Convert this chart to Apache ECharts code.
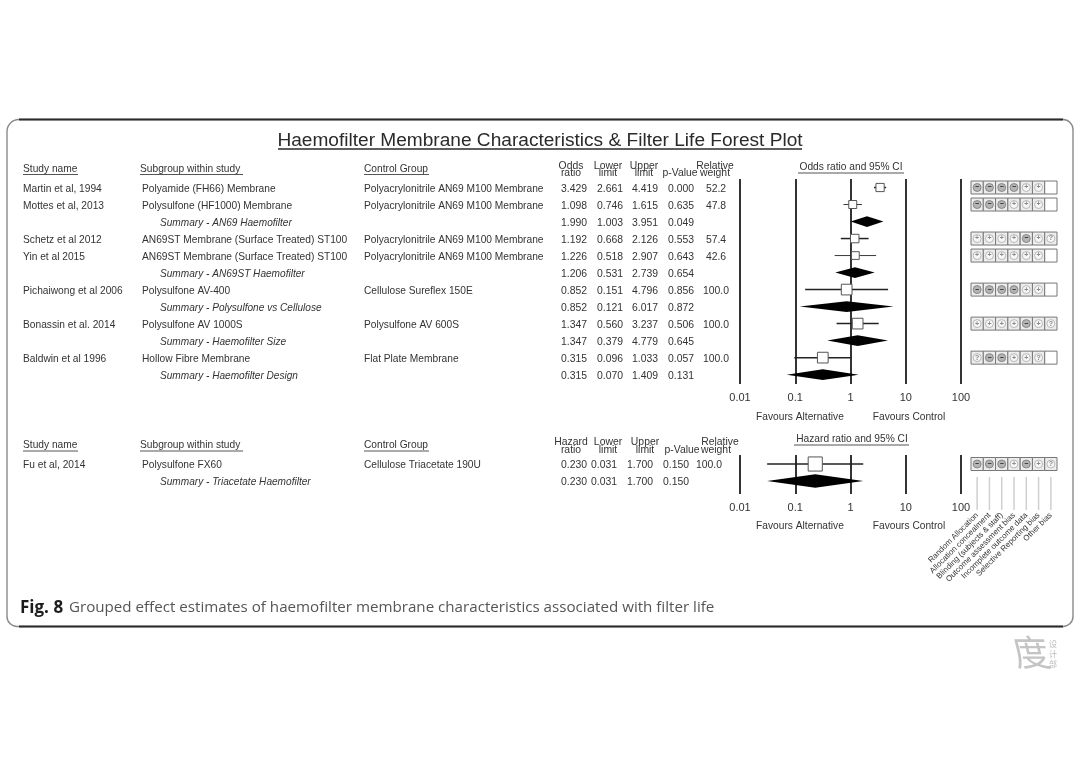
<!DOCTYPE html>
<html>
<head>
<meta charset="utf-8">
<style>html,body{margin:0;padding:0;background:#fff}#c{width:1080px;height:764px;filter:blur(0.45px)}</style>
<script src="https://cdn.jsdelivr.net/npm/echarts@6/dist/echarts.min.js"></script>
</head>
<body>
<div id="c"></div>
<script>
// ---------- Data ----------
const chartTitle = 'Haemofilter Membrane Characteristics & Filter Life Forest Plot';
const captionBold = 'Fig. 8';
const captionText = 'Grouped effect estimates of haemofilter membrane characteristics associated with filter life';

const oddsStudies = ['Martin et al, 1994','Mottes et al, 2013','','Schetz et al 2012','Yin et al 2015','','Pichaiwong et al 2006','','Bonassin et al. 2014','','Baldwin et al 1996',''];
const oddsSubgroups = ['Polyamide (FH66) Membrane','Polysulfone (HF1000) Membrane','Summary - AN69 Haemofilter','AN69ST Membrane (Surface Treated) ST100','AN69ST Membrane (Surface Treated) ST100','Summary - AN69ST Haemofilter','Polysulfone AV-400','Summary - Polysulfone vs Cellulose','Polysulfone AV 1000S','Summary - Haemofilter Size','Hollow Fibre Membrane','Summary - Haemofilter Design'];
const oddsControls = ['Polyacrylonitrile AN69 M100 Membrane','Polyacrylonitrile AN69 M100 Membrane','','Polyacrylonitrile AN69 M100 Membrane','Polyacrylonitrile AN69 M100 Membrane','','Cellulose Sureflex 150E','','Polysulfone AV 600S','','Flat Plate Membrane',''];
const oddsRatios = [3.429,1.098,1.990,1.192,1.226,1.206,0.852,0.852,1.347,1.347,0.315,0.315];
const oddsLower = [2.661,0.746,1.003,0.668,0.518,0.531,0.151,0.121,0.560,0.379,0.096,0.070];
const oddsUpper = [4.419,1.615,3.951,2.126,2.907,2.739,4.796,6.017,3.237,4.779,1.033,1.409];
const oddsP = [0.000,0.635,0.049,0.553,0.643,0.654,0.856,0.872,0.506,0.645,0.057,0.131];
const oddsWeights = [52.2,47.8,null,57.4,42.6,null,100.0,null,100.0,null,100.0,null];
const oddsRisk = ['----++ ','---+++ ',null,'++++-+?','++++++ ',null,'----++ ',null,'++++-+?',null,'?--++? ',null];

const hazardStudies = ['Fu et al, 2014',''];
const hazardSubgroups = ['Polysulfone FX60','Summary - Triacetate Haemofilter'];
const hazardControls = ['Cellulose Triacetate 190U',''];
const hazardRatios = [0.230,0.230];
const hazardLower = [0.031,0.031];
const hazardUpper = [1.700,1.700];
const hazardP = [0.150,0.150];
const hazardWeights = [100.0,null];
const hazardRisk = ['---+-+?',null];

const riskDomains = ['Random Allocation','Allocation concealment','Blinding (subjects & staff)','Outcome assessment bias','Incomplete outcome data','Selective Reporting bias','Other bias'];

// ---------- Layout ----------
const INK = '#333';
const SANS = '"Liberation Sans", Arial, sans-serif';
const rowFont = '10.2px ' + SANS;
const italicFont = 'italic 10.1px ' + SANS;
const numFont = '10.4px ' + SANS;

const oddsCols = {study:23, sub:142, summary:160, control:364, or:574, lo:610, hi:645, p:681, w:716};
const hazardCols = {study:23, sub:142, summary:160, control:364, or:574, lo:604, hi:640, p:676, w:709};

function t(text, x, y, font, align, fill) {
  return {type:'text', silent:true, style:{text:text, x:x, y:y+1, font:font, align:align||'left', verticalAlign:'middle', fill:fill||INK}};
}
function rule(x1, x2, y, color, w) {
  return {type:'line', silent:true, shape:{x1:x1,y1:y,x2:x2,y2:y}, style:{stroke:color||INK, lineWidth:w||1}};
}

function tableSeries(xi, yi, cols, studies, subs, ctrls, ors, los, his, ps, ws) {
  const rows = studies.map((s,i)=>[1,i]);
  return {
    type:'custom', xAxisIndex:xi, yAxisIndex:yi, silent:true, clip:false, coordinateSystem:'cartesian2d',
    encode:{x:0,y:1}, data:rows,
    renderItem:function(params, api){
      const i = api.value(1);
      const y = api.coord([1,i])[1] + 0.5;
      const kids = [];
      const isSum = subs[i].indexOf('Summary') === 0;
      if (studies[i]) kids.push(t(studies[i], cols.study, y, rowFont));
      kids.push(t(subs[i], isSum ? cols.summary : cols.sub, y, isSum ? italicFont : rowFont));
      if (ctrls[i]) kids.push(t(ctrls[i], cols.control, y, rowFont));
      kids.push(t(ors[i].toFixed(3), cols.or, y, numFont, 'center'));
      kids.push(t(los[i].toFixed(3), cols.lo, y, numFont, 'center'));
      kids.push(t(his[i].toFixed(3), cols.hi, y, numFont, 'center'));
      kids.push(t(ps[i].toFixed(3), cols.p, y, numFont, 'center'));
      if (ws[i] != null) kids.push(t(ws[i].toFixed(1), cols.w, y, numFont, 'center'));
      return {type:'group', children:kids};
    }
  };
}

function forestSeries(xi, yi, ors, los, his, ws, boxScale, diamondHalf) {
  const rows = ors.map((o,i)=>[o, los[i], his[i], i, ws[i] == null ? -1 : ws[i]]);
  return {
    type:'custom', xAxisIndex:xi, yAxisIndex:yi, silent:true, clip:false, coordinateSystem:'cartesian2d',
    encode:{x:[0,1,2], y:3}, data:rows,
    renderItem:function(params, api){
      const row = api.value(3), w = api.value(4);
      const c = api.coord([api.value(0), row]);
      const l = api.coord([api.value(1), row]);
      const h = api.coord([api.value(2), row]);
      if (w < 0) {
        return {type:'polygon', silent:true, shape:{points:[[l[0],c[1]],[c[0],c[1]-diamondHalf],[h[0],c[1]],[c[0],c[1]+diamondHalf]]}, style:{fill:'#000'}};
      }
      const side = (5.5 + w*0.052) * boxScale;
      return {type:'group', children:[
        {type:'line', silent:true, shape:{x1:l[0],y1:c[1],x2:h[0],y2:c[1]}, style:{stroke:'#222', lineWidth: (w>=50 ? 1.5 : 0.9)}},
        {type:'rect', silent:true, shape:{x:c[0]-side/2,y:c[1]-side/2,width:side,height:side}, style:{fill:'#fff', stroke:'#555', lineWidth:1}}
      ]};
    }
  };
}

function riskSeries(xi, yi, codes) {
  const cells = [];
  codes.forEach((code,row)=>{ if (code) code.split('').forEach((g,d)=>cells.push([d,row,g])); });
  return {
    type:'custom', xAxisIndex:xi, yAxisIndex:yi, silent:true, clip:false, coordinateSystem:'cartesian2d',
    encode:{x:0,y:1}, data:cells, dimensions:['d','r',{name:'g',type:'ordinal'}],
    renderItem:function(params, api){
      const p = api.coord([api.value(0), api.value(1)]);
      const cw = api.size([1,0])[0];
      const g = cells[params.dataIndex][2];
      const kids = [{type:'rect', silent:true, shape:{x:p[0]-cw/2,y:p[1]-6.5,width:cw,height:13},
        style:{fill: g===' ' ? '#fff' : '#ededed', stroke:'#777', lineWidth:1}}];
      if (g !== ' ') {
        const neg = g === '-';
        kids.push({type:'circle', silent:true, shape:{cx:p[0],cy:p[1],r:4}, style:{fill: neg ? '#b4b4b4' : '#f6f6f6', stroke: neg ? '#777' : '#aaa', lineWidth:0.8}});
        kids.push(t(neg ? '\u2212' : g, p[0], p[1]-1, 'bold 7px '+SANS, 'center', neg ? '#222' : '#888'));
      }
      return {type:'group', children:kids};
    }
  };
}

// long pale leader lines from the risk-of-bias boxes down to the rotated labels
function leaderSeries(xi, yi) {
  return {
    type:'custom', xAxisIndex:xi, yAxisIndex:yi, silent:true, clip:false, coordinateSystem:'cartesian2d',
    encode:{x:0,y:1}, data:riskDomains.map((d,i)=>[i,0]),
    renderItem:function(params, api){
      const p = api.coord([api.value(0), 0]);
      return {type:'line', silent:true, shape:{x1:p[0],y1:p[1]+13,x2:p[0],y2:p[1]+46}, style:{stroke:'#cfcfcf', lineWidth:1.5}};
    }
  };
}

const logAxis = (gi)=>({
  type:'log', logBase:10, min:0.01, max:100, gridIndex:gi,
  axisLine:{show:false}, axisTick:{show:false},
  splitLine:{show:true, lineStyle:{color:'#000', width:1.6}},
  minorSplitLine:{show:false},
  axisLabel:{color:INK, fontSize:11, fontFamily:SANS, margin:8, formatter:v=>String(+(+v).toPrecision(2))}
});
const rowAxis = (gi,min,max)=>({type:'value', inverse:true, min:min, max:max, gridIndex:gi, show:false, splitLine:{show:false}});

const option = {
  animation:false, backgroundColor:'#fff',
  tooltip:{show:false},
  grid:[
    {left:740, width:221, top:179, height:205},
    {left:740, width:221, top:455, height:39},
    {left:971, width:86, top:179, height:205},
    {left:971, width:86, top:455, height:22}
  ],
  xAxis:[
    logAxis(0), logAxis(1),
    {type:'category', gridIndex:2, data:riskDomains, show:false},
    {type:'category', gridIndex:3, data:riskDomains,
      axisLine:{show:false}, splitLine:{show:false}, axisTick:{show:false},
      axisLabel:{interval:0, rotate:45, color:INK, fontSize:8, fontFamily:SANS, margin:37}}
  ],
  yAxis:[
    rowAxis(0,-0.5,11.55), rowAxis(1,-0.53,1.765),
    rowAxis(2,-0.5,11.55), rowAxis(3,-0.53,0.765)
  ],
  series:[
    tableSeries(0,0,oddsCols,oddsStudies,oddsSubgroups,oddsControls,oddsRatios,oddsLower,oddsUpper,oddsP,oddsWeights),
    forestSeries(0,0,oddsRatios,oddsLower,oddsUpper,oddsWeights,1,5.4),
    riskSeries(2,2,oddsRisk),
    tableSeries(1,1,hazardCols,hazardStudies,hazardSubgroups,hazardControls,hazardRatios,hazardLower,hazardUpper,hazardP,hazardWeights),
    forestSeries(1,1,hazardRatios,hazardLower,hazardUpper,hazardWeights,1.32,6.8),
    leaderSeries(3,3),
    riskSeries(3,3,hazardRisk)
  ],
  graphic:{elements:[
    // frame
    {type:'rect', silent:true, z:-1, shape:{x:7,y:119.5,width:1066,height:507,r:[12,10,10,10]}, style:{fill:'#fff',stroke:'#8a8a8a',lineWidth:1.4}},
    rule(19,1063,119.5,'#2c2c2c',2.2),
    rule(19,1063,626.5,'#2c2c2c',2),
    // title
    t(chartTitle,540,139.5,'19.1px '+SANS,'center','#2a2a2a'),
    rule(278,802,149,'#2a2a2a',1.3),
    // upper header
    t('Study name',23,168,rowFont), rule(23,78,174.5,'#555'),
    t('Subgroup within study',140,168,rowFont), rule(140,243,174.5,'#555'),
    t('Control Group',364,168,rowFont), rule(364,429,174.5,'#555'),
    t('Odds',571,165,numFont,'center'), t('ratio',571,172.5,numFont,'center'),
    t('Lower',608,165,numFont,'center'), t('limit',608,172.5,numFont,'center'),
    t('Upper',644,165,numFont,'center'), t('limit',644,172.5,numFont,'center'),
    t('p-Value',680,172.5,numFont,'center'),
    t('Relative',715,165,numFont,'center'), t('weight',715,172.5,numFont,'center'),
    t('Odds ratio and 95% CI',851,166,rowFont,'center'), rule(798,904,173,'#555'),
    t('Favours Alternative',800,416,rowFont,'center'),
    t('Favours Control',909,416,rowFont,'center'),
    // lower header
    t('Study name',23,444,rowFont), rule(23,78,451,'#555'),
    t('Subgroup within study',140,444,rowFont), rule(140,243,451,'#555'),
    t('Control Group',364,444,rowFont), rule(364,429,451,'#555'),
    t('Hazard',571,441,numFont,'center'), t('ratio',571,449,numFont,'center'),
    t('Lower',608,441,numFont,'center'), t('limit',608,449,numFont,'center'),
    t('Upper',645,441,numFont,'center'), t('limit',645,449,numFont,'center'),
    t('p-Value',682,449,numFont,'center'),
    t('Relative',720,441,numFont,'center'), t('weight',716,449,numFont,'center'),
    t('Hazard ratio and 95% CI',852,438,rowFont,'center'), rule(794,909,445,'#555'),
    t('Favours Alternative',800,525,rowFont,'center'),
    t('Favours Control',909,525,rowFont,'center'),
    // caption
    t(captionBold,20,607,'bold 17px "Open Sans", "Noto Sans", sans-serif','left','#1c1c1c'),
    t(captionText,69,607,'15.15px "Open Sans", "Noto Sans", sans-serif','left','#555'),
    // watermark
    {type:'text', silent:true, x:1031, y:652, skewX:0.25, style:{text:'度', font:'36px "Noto Sans CJK SC"', align:'center', verticalAlign:'middle', fill:'#c4c4c4'}},
    t('设',1053,643,'8px "Noto Sans CJK SC"','center','#bbb'),
    t('计',1053,653,'8px "Noto Sans CJK SC"','center','#bbb'),
    t('部',1053,663,'8px "Noto Sans CJK SC"','center','#bbb')
  ]}
};
const chart = echarts.init(document.getElementById('c'), null, {renderer:'canvas', width:1080, height:764});
chart.setOption(option);
</script>
</body>
</html>
